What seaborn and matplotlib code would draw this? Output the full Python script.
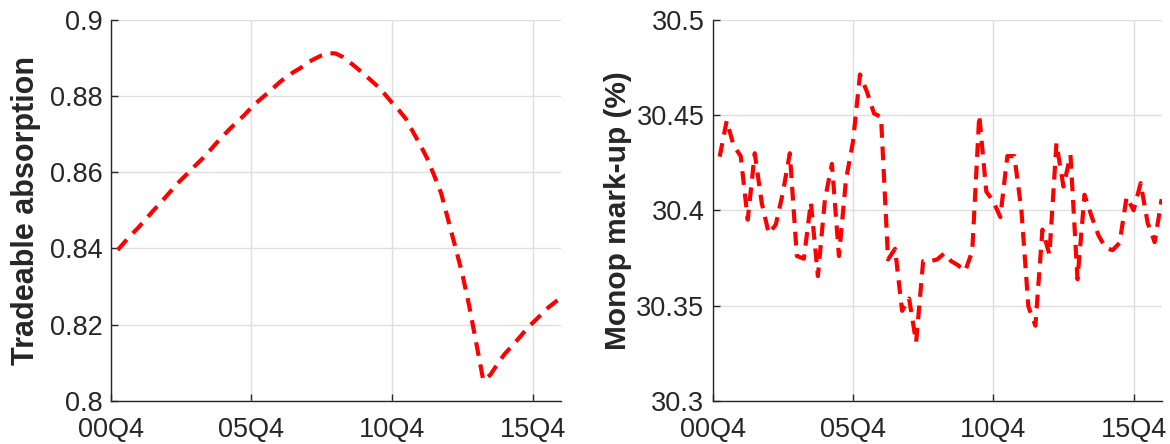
import numpy as np
import pandas as pd
import matplotlib
matplotlib.use("Agg")
import matplotlib.pyplot as plt
import seaborn as sns

# Quarterly index: 0 = 2000Q4, so 1..64 runs 2001Q1 .. 2016Q4
quarter = np.arange(1, 65)

tradeable_absorption = [
    0.8396, 0.8417, 0.8437, 0.8456, 0.8477, 0.8498, 0.8518, 0.8539, 0.8560, 0.8580,
    0.8598, 0.8617, 0.8635, 0.8655, 0.8676, 0.8696, 0.8715, 0.8733, 0.8750, 0.8770,
    0.8787, 0.8803, 0.8819, 0.8836, 0.8851, 0.8863, 0.8874, 0.8888, 0.8898, 0.8907,
    0.8913, 0.8912, 0.8903, 0.8889, 0.8874, 0.8858, 0.8842, 0.8825, 0.8805, 0.8783,
    0.8763, 0.8740, 0.8706, 0.8673, 0.8637, 0.8592, 0.8545, 0.8475, 0.8405, 0.8334,
    0.8248, 0.8151, 0.8053, 0.8068, 0.8096, 0.8122, 0.8142, 0.8163, 0.8185, 0.8204,
    0.8222, 0.8241, 0.8256, 0.8270,
]

monop_markup = [
    30.4282, 30.4470, 30.4340, 30.4285, 30.3951, 30.4300, 30.4038, 30.3878, 30.3925, 30.4091,
    30.4300, 30.3760, 30.3746, 30.4042, 30.3655, 30.4056, 30.4244, 30.3760, 30.4160, 30.4360,
    30.4714, 30.4622, 30.4509, 30.4490, 30.3742, 30.3798, 30.3472, 30.3537, 30.3307, 30.3733,
    30.3733, 30.3742, 30.3774, 30.3733, 30.3711, 30.3681, 30.3786, 30.4500, 30.4099, 30.4047,
    30.3965, 30.4285, 30.4285, 30.4003, 30.3495, 30.3394, 30.3899, 30.3768, 30.4352, 30.4125,
    30.4291, 30.3638, 30.4082, 30.3969, 30.3868, 30.3803, 30.3791, 30.3829, 30.4070, 30.4000,
    30.4143, 30.3934, 30.3833, 30.4059,
]

xtick_pos = [0, 20, 40, 60]
xtick_labels = ["00Q4", "05Q4", "10Q4", "15Q4"]

left_yticks = [0.80, 0.82, 0.84, 0.86, 0.88, 0.90]
left_ylabels = ["0.8", "0.82", "0.84", "0.86", "0.88", "0.9"]
right_yticks = [30.30, 30.35, 30.40, 30.45, 30.50]
right_ylabels = ["30.3", "30.35", "30.4", "30.45", "30.5"]

sns.set_theme(style="white")
plt.rcParams["font.family"] = ["Liberation Sans", "DejaVu Sans"]

text_col = "#262626"
grid_col = "#dfdfdf"

fig = plt.figure(figsize=(11.7, 4.44), dpi=100)
ax1 = fig.add_axes([0.0946, 0.0975, 0.3846, 0.8575])
ax2 = fig.add_axes([0.6091, 0.0975, 0.3838, 0.8575])

df = pd.DataFrame({
    "quarter": quarter,
    "absorption": tradeable_absorption,
    "markup": monop_markup,
})

panels = [
    (ax1, "absorption", "Tradeable absorption", 22.0, (0.80, 0.90),
     left_yticks, left_ylabels, -0.155),
    (ax2, "markup", "Monop mark-up (%)", 21.5, (30.30, 30.50),
     right_yticks, right_ylabels, -0.180),
]

for ax, col, label, lab_size, ylim, yt, ytl, lab_x in panels:
    sns.lineplot(data=df, x="quarter", y=col, ax=ax, color="#ff0000",
                 linewidth=3.0, zorder=3)
    ax.lines[-1].set_dashes([3.3, 2.1])
    ax.lines[-1].set_dash_capstyle("butt")

    ax.set_xlim(0, 64)
    ax.set_ylim(*ylim)
    ax.set_xticks(xtick_pos)
    ax.set_xticklabels(xtick_labels)
    ax.set_yticks(yt)
    ax.set_yticklabels(ytl)

    ax.grid(True, color=grid_col, linewidth=1.0)
    ax.set_axisbelow(True)

    for side in ("top", "right"):
        ax.spines[side].set_visible(False)
    for side in ("left", "bottom"):
        ax.spines[side].set_color(text_col)
        ax.spines[side].set_linewidth(1.0)

    ax.tick_params(axis="both", direction="in", length=5, width=1.0,
                   colors=text_col, labelsize=19.5, left=True, bottom=True)
    ax.tick_params(axis="y", pad=6)
    ax.tick_params(axis="x", pad=12)
    ax.set_xlabel("")
    ax.set_ylabel(label, fontsize=lab_size, fontweight="bold", color=text_col)
    ax.yaxis.set_label_coords(lab_x, 0.5)

fig.savefig("out.png", dpi=100, facecolor="white")
